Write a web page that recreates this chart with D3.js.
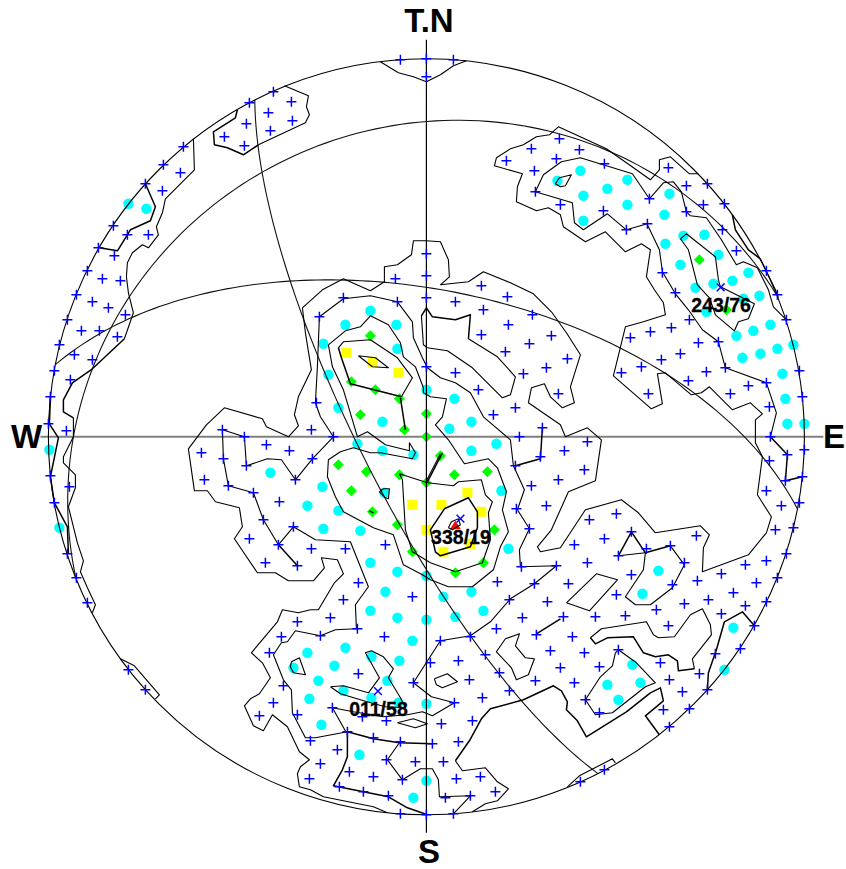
<!DOCTYPE html>
<html><head><meta charset="utf-8">
<script src="https://cdn.jsdelivr.net/npm/d3@7/dist/d3.min.js"></script>
<style>html,body{margin:0;padding:0;background:#fff}svg{display:block}text{font-family:"Liberation Sans",Arial,sans-serif;font-weight:bold;fill:#000}</style>
</head><body><div id="chart"></div>
<script>
// Net coordinates: [east, north], net radius = 378 units.
const NET_RADIUS = 378;
const planes = [
  {label:"338/19", dipDir:338, dip:19},
  {label:"243/76", dipDir:243, dip:76},
  {label:"011/58", dipDir:11, dip:58}
];
const compassLabels = ["T.N","S","W","E"];
const countCross = [[-26,377],[0,378],[27,377],[0,360],[-153,345],[-135,335],[-177,334],[-158,324],[-134,316],[-180,313],[-156,306],[-202,300],[-182,291],[-243,290],[-263,272],[-246,264],[-281,253],[-264,246],[-313,211],[-299,202],[-278,202],[-328,189],[-312,181],[-339,166],[-324,158],[-306,156],[-350,142],[-31,158],[-83,139],[0,183],[0,161],[0,139],[133,298],[105,288],[153,287],[80,276],[130,278],[178,273],[108,266],[242,269],[260,251],[281,253],[109,245],[134,232],[177,226],[223,238],[277,232],[298,233],[260,225],[221,213],[200,207],[296,207],[310,186],[236,164],[340,166],[249,144],[351,142],[55,151],[81,140],[29,135],[57,127],[106,122],[82,112],[55,102],[125,101],[103,93],[79,85],[141,78],[120,69],[0,70],[97,63],[29,64],[52,47],[132,43],[89,29],[67,22],[116,9],[93,0],[161,-5],[138,-14],[114,-20],[89,-29],[158,-33],[132,-43],[105,-49],[120,-69],[90,-72],[103,-92],[95,-130],[130,-129],[71,-145],[108,-147],[263,117],[360,117],[245,109],[224,105],[204,99],[292,95],[272,94],[254,83],[235,77],[215,70],[299,69],[280,65],[373,66],[195,64],[262,56],[340,54],[322,51],[304,43],[222,43],[376,40],[343,30],[344,0],[378,-13],[361,-18],[343,-24],[376,-40],[359,-44],[340,-54],[373,-66],[355,-69],[367,-91],[349,-93],[360,-117],[340,-124],[319,-128],[295,-137],[270,-99],[351,-141],[330,-146],[271,-144],[246,-148],[258,-126],[244,-109],[220,-112],[205,-95],[192,-119],[205,-138],[190,-77],[163,-83],[178,-102],[148,-108],[161,-126],[142,-147],
[-334,135],[-318,129],[-301,122],[-359,117],[-345,106],[-327,106],[-309,100],[-367,92],[-352,82],[-334,77],[-372,66],[-356,57],[-376,40],[-378,13],[-360,6],[-376,-39],[-357,-50],[-372,-66],[-359,-117],[-350,-141],[-29,135],[-107,120],[-110,34],[-115,7],[-93,0],[-204,7],[-182,0],[-160,-8],[-137,-14],[-225,-16],[-203,-22],[-114,-22],[-180,-29],[-131,-43],[-222,-43],[-198,-49],[-173,-56],[-147,-65],[-163,-83],[-133,-90],[-177,-102],[-148,-108],[-115,-112],[-81,-112],[-41,-108],[-161,-126],[-129,-129],[-68,-146],
[-339,-166],[-298,-233],[-281,-253],[-83,-163],[-96,-181],[-129,-185],[-145,-200],[-106,-199],[-69,-192],[-42,-200],[-14,-160],[-157,-216],[-68,-237],[-143,-249],[-13,-246],[-153,-266],[-167,-279],[-129,-278],[-94,-271],[-64,-280],[-40,-284],[-116,-304],[-79,-295],[-53,-301],[-26,-305],[-89,-313],[-40,-323],[-106,-327],[-11,-325],[-77,-335],[-53,-340],[-117,-342],[-24,-343],[-87,-350],[-63,-355],[-38,-359],[-26,-377],[0,-378],[27,-377],
[83,-163],[121,-165],[190,-158],[307,-156],[282,-163],[258,-167],[230,-173],[340,-165],[319,-169],[295,-177],[199,-179],[169,-180],[137,-180],[96,-181],[242,-189],[328,-189],[70,-192],[44,-200],[14,-204],[110,-198],[146,-200],[314,-212],[192,-213],[124,-214],[158,-216],[59,-218],[289,-217],[4,-226],[32,-224],[234,-226],[173,-230],[134,-231],[273,-237],[73,-236],[243,-243],[43,-243],[109,-244],[148,-246],[281,-253],[256,-255],[83,-254],[159,-263],[56,-261],[28,-266],[263,-272],[237,-273],[173,-276],[243,-290],[15,-287],[46,-284],[6,-307],[32,-305],[17,-325],[30,-342],[54,-340],[69,-355],[19,-361],[44,-359],[178,-333],[154,-345]];
const countCircle = [[-298,233],[-280,228],[154,266],[131,256],[201,257],[181,248],[157,241],[243,243],[201,232],[238,222],[157,216],[257,201],[278,202],[239,193],[292,182],[254,172],[322,164],[306,156],[287,153],[269,149],[333,141],[317,138],[280,125],[310,101],[327,106],[344,112],[367,92],[351,88],[334,83],[316,79],[356,63],[359,38],[361,13],[378,13],[0,47],[28,38],[45,15],[23,8],[45,-14],[70,-7],[75,-54],[82,-112],[0,-139],[45,-155],[232,-134],[216,-157],[17,-160],[57,-174],[29,-180],[0,-183],[307,-191],[206,-228],[298,-233],[214,-246],[181,-248],[192,-263],[0,-267],[0,-344],[-56,126],[-81,112],[-30,112],[-103,93],[-29,88],[-98,62],[-88,29],[-44,15],[-69,-7],[-44,-14],[-13,-18],[-377,-13],[-367,-91],[-156,-36],[-104,-50],[-42,-56],[-119,-69],[-88,-74],[-103,-92],[-66,-94],[-56,-126],[-29,-135],[-41,-155],[-56,-174],[-29,-181],[-14,-204],[-81,-211],[-119,-216],[-27,-224],[-55,-220],[-92,-229],[-133,-231],[-108,-244],[-39,-244],[-83,-254],[-117,-262],[-55,-261],[-28,-266],[-105,-288],[-67,-318],[-13,-361]];
const countDiamond = [[273,177],[300,127],[0,23],[0,0],[14,-19],[28,-38],[61,-35],[0,-46],[68,-93],[57,-126],[29,-136],[-56,101],[-75,55],[-51,47],[-27,38],[-66,22],[-22,7],[-88,-28],[-60,-35],[-27,-38],[-75,-54],[-54,-75],[-29,-88],[-14,-115]];
const countSquare = [[41,-56],[15,-68],[55,-75],[0,-93],[44,-107],[17,-115],[-80,84],[-54,75],[-28,64],[-14,-68]];
const countTriangle = [[29,-89]];
// open contour lines, thin
const contoursThin = [
 [[-46,375],[-28,364],[-13,360],[0,355],[14,362],[27,371],[40,376]],
 [[-142,351],[-118,341],[-120,330],[-117,322],[-121,314],[-168,292]],
 [[-233,298],[-232,267],[-261,238],[-264,224],[-270,210],[-268,202],[-278,189],[-284,192],[-294,184],[-299,174],[-300,160],[-298,144],[-293,124],[-302,98]],
 [[-353,19],[-353,0],[-363,-20],[-363,-26],[-351,-38],[-351,-51],[-358,-70],[-349,-106],[-343,-124],[-346,-135],[-339,-151],[-331,-168],[-334,-176]],
 [[-306,-222],[-292,-229],[-267,-258],[-271,-262]],
 [[272,263],[263,263],[244,280],[233,277],[233,267],[224,257],[200,274],[180,288],[132,310],[123,302],[110,300],[97,292],[84,288],[70,279],[68,271],[96,263],[91,250],[90,235],[110,226],[122,229],[134,222],[137,210],[159,195],[179,205],[199,185],[215,193],[224,187],[220,160],[228,147],[237,134],[239,122],[217,115],[199,110],[187,61],[225,28],[236,33],[231,63],[239,64],[265,42],[275,44],[283,50],[306,27],[324,34],[336,23],[329,17],[329,-6],[336,-20],[331,-58],[345,-80],[340,-96],[322,-118],[276,-135],[277,-111],[283,-98],[274,-89],[229,-96],[212,-76],[195,-63],[159,-73],[134,-111],[114,-115],[111,-110],[125,-93],[142,-55],[169,-44],[175,-3],[161,9],[139,0],[134,12],[102,34],[105,49],[118,53],[124,40],[136,29],[148,34],[144,50],[154,82],[140,104],[125,125],[107,143],[84,154],[57,165],[42,155],[14,152],[23,160],[22,177],[14,195],[0,196],[-13,196],[-15,182],[-29,172],[-42,170],[-42,155],[-56,146],[-83,158],[-104,147],[-124,129],[-121,104],[-115,67],[-128,40],[-132,22],[-128,11],[-138,0],[-160,10],[-164,18],[-202,29],[-220,12],[-238,-12],[-232,-54],[-219,-54],[-211,-65],[-187,-71],[-184,-90],[-192,-102],[-169,-136],[-151,-136],[-138,-144],[-113,-144],[-102,-131],[-105,-121],[-89,-123],[-83,-137],[-92,-146],[-108,-173],[-116,-173],[-128,-176],[-144,-173],[-149,-185],[-175,-216],[-164,-226],[-156,-241],[-167,-257],[-176,-262],[-182,-269],[-173,-289],[-163,-294],[-154,-278],[-139,-290],[-127,-315],[-117,-323],[-126,-330],[-129,-337],[-127,-350],[-116,-353],[-103,-360],[-53,-370],[-39,-376]],
 [[46,-375],[59,-367],[71,-364],[82,-352],[71,-345],[59,-331],[36,-334],[29,-324]],
 [[141,-350],[153,-339],[186,-322],[189,-326]],
 [[164,-201],[175,-192],[220,-185],[227,-198],[232,-201],[248,-200],[264,-178],[276,-172],[284,-188],[285,-198],[266,-222],[268,-232]],
 [[140,-166],[170,-137],[191,-143],[163,-174],[140,-166]],
 [[79,-202],[93,-197],[89,-209],[99,-221],[108,-222],[102,-238],[90,-243],[85,-231],[70,-215],[79,-202]],
 [[8,-242],[21,-237],[31,-245],[16,-251],[10,-248],[8,-242]],
 [[192,-213],[210,-226],[229,-246],[219,-250],[186,-276],[169,-278],[159,-263],[174,-240],[186,-229],[189,-216],[192,-213]],
 [[219,-116],[217,-133],[199,-160],[209,-168],[224,-168],[246,-151],[258,-128],[244,-109]],
 [[192,-119],[219,-116]],
 [[-29,-286],[-13,-282],[1,-287],[-11,-291],[-29,-286]],
 [[1,89],[21,86],[46,69],[76,39],[84,42],[89,60],[71,80],[42,98]],
 [[-5,121],[-3,92],[1,89]],
 [[-83,138],[-107,120],[-109,70],[-111,34],[-106,20],[-93,0],[-114,-22],[-131,-43],[-145,-23],[-159,-22],[-180,-29],[-182,0],[-204,7],[-203,-22],[-198,-49],[-173,-56],[-163,-83],[-148,-108]],
 [[-148,-108],[-133,-90],[-111,-103],[-76,-105],[-66,-130],[-58,-150],[-71,-168],[-70,-192],[-91,-193],[-106,-199],[-131,-194],[-139,-205],[-145,-206],[-153,-218],[-143,-243],[-135,-253],[-134,-276],[-121,-301],[-111,-301],[-79,-295]],
 [[-27,-306],[-39,-323],[-24,-343],[-6,-332],[6,-332],[12,-343],[13,-360],[44,-359],[27,-377]],
 [[-94,-271],[-80,-296]],
 [[-83,138],[-56,141],[-29,135],[-14,115],[-13,99],[-4,79],[1,69],[14,59],[29,54],[44,44],[57,20],[84,-3],[87,-29],[98,-53],[91,-73],[103,-92],[93,-113],[94,-130],[130,-129],[108,-147],[84,-162],[64,-185],[44,-199],[14,-204],[-13,-246],[5,-260],[28,-266],[6,-279],[-4,-275],[-19,-278],[-43,-280],[-73,-275],[-94,-271]],
 [[-98,92],[-94,70],[-83,47],[-74,17],[-69,0],[-59,5],[-41,-8],[-17,-14],[-17,-6],[-11,-16],[-14,-22],[-46,-16],[-56,-16],[-73,-11],[-86,-15],[-98,-23],[-99,-40],[-91,-60],[-83,-75],[-53,-91],[-33,-98],[-23,-128],[-4,-138],[4,-143],[22,-150],[46,-150],[67,-133],[74,-110],[82,-95],[76,-73],[80,-55],[71,-31],[62,-22],[38,-27],[22,-3],[9,12],[16,20],[20,38],[4,40],[-3,44],[-3,49],[-11,70],[-23,80],[-26,94],[-38,112],[-56,121],[-66,110],[-81,106],[-98,92]],
 [[-88,89],[-83,95],[-56,97],[-29,79],[-14,59],[-25,40]],
 [[-68,81],[-51,79],[-38,69],[-54,70],[-68,81]],
 [[-27,-37],[1,-46],[27,-49],[32,-45],[55,-43],[59,-58],[66,-65],[62,-76],[64,-103],[56,-126],[29,-135],[4,-126],[-14,-115],[-21,-93],[-24,-43],[-27,-37]],
 [[22,-91],[25,-85],[32,-82],[34,-88],[26,-93],[22,-91]],
 [[-47,-55],[-43,-52],[-37,-52],[-38,-62],[-41,-61],[-47,-55]],
 [[14,-17],[-1,-46]],
 [[-96,-250],[-83,-249],[-58,-256],[-47,-241],[-61,-216],[-55,-214],[-43,-220],[-33,-232],[-38,-241],[-26,-261],[-21,-271],[-41,-270],[-56,-266],[-86,-257],[-96,-250]],
 [[-127,-221],[-121,-238],[-133,-236],[-136,-230],[-135,-225],[-127,-221]],
 [[221,213],[200,207],[181,223],[157,207],[148,214],[146,234],[109,245],[117,262],[135,275],[154,279],[206,263],[223,238],[237,254],[247,255],[255,245],[260,225],[264,221],[280,219],[295,197],[310,172],[317,175],[331,169],[342,147],[347,130],[360,117]],
 [[221,212],[233,187],[236,165],[249,143],[262,127],[276,107],[292,95],[299,69],[340,54],[350,24],[344,0]],
 [[254,198],[260,203],[289,180],[292,157],[294,150],[328,133],[322,118],[312,115],[308,106],[289,122],[283,139],[271,152],[262,187],[254,198]],
 [[129,253],[133,259],[145,262],[139,251],[134,250],[129,253]],
 [[334,178],[349,147],[352,139]]
];
// open contour lines, heavy
const contoursThick = [
 [[-168,292],[-183,282],[-199,289],[-212,292],[-213,305],[-191,319],[-189,327]],
 [[-302,98],[-334,68],[-354,54],[-363,37],[-363,25],[-353,19]],
 [[-281,253],[-271,230],[-276,216],[-296,207],[-309,186],[-327,189]],
 [[-376,40],[-377,13],[-368,-1],[-376,-40],[-372,-66],[-359,-90],[-358,-117]],
 [[29,-324],[43,-304],[55,-282],[64,-272],[97,-263],[127,-249],[135,-254],[141,-265],[140,-273],[151,-284],[160,-300],[200,-275],[224,-256],[234,-251],[237,-264],[219,-279],[233,-298]],
 [[281,-253],[282,-236],[290,-213],[298,-185],[316,-175],[328,-189]],
 [[268,-232],[252,-234],[251,-224],[242,-218],[229,-220],[217,-216],[207,-200],[181,-201],[169,-207],[164,-201]],
 [[192,-119],[205,-95],[219,-116],[244,-109]],
 [[110,-197],[134,-182]],
 [[42,98],[44,122],[29,117],[6,120],[0,129],[-5,121]],
 [[-148,-108],[-129,-129]],
 [[-79,-295],[-53,-302],[-27,-306],[6,-307]],
 [[-79,-295],[-79,-320],[-84,-333],[-93,-349],[-63,-355],[-38,-360],[-19,-371],[1,-378]],
 [[-25,40],[-76,53],[-85,79],[-88,89]],
 [[-26,39],[-21,7]],
 [[18,-72],[42,-61],[51,-75],[51,-91],[44,-110],[14,-119],[9,-115],[4,-93],[18,-72]],
 [[-57,-74],[-53,-76]],
 [[16,-16],[1,-45]],
 [[344,0],[361,-18],[359,-44],[376,-40]],
 [[306,222],[309,207],[322,187],[334,178]],
 [[89,-29],[114,-22],[116,9]]
];

const width = 846, height = 869, cx = 426.4, cy = 436.8;
const x = d3.scaleLinear().domain([-NET_RADIUS, NET_RADIUS]).range([cx - NET_RADIUS, cx + NET_RADIUS]);
const y = d3.scaleLinear().domain([-NET_RADIUS, NET_RADIUS]).range([cy + NET_RADIUS, cy - NET_RADIUS]);
const rad = d => d * Math.PI / 180;

// Equal-area (Schmidt) lower-hemisphere projection of a unit vector [e, n, down]
function project([e, n, z]) {
  const r = NET_RADIUS * Math.SQRT2 * Math.sin((Math.PI / 2 - Math.asin(Math.min(1, z))) / 2);
  const h = Math.hypot(e, n) || 1;
  return [r * e / h, r * n / h];
}
function greatCircle(p) {
  const dd = rad(p.dipDir), d = rad(p.dip), s = dd - Math.PI / 2;
  const S = [Math.sin(s), Math.cos(s), 0];
  const D = [Math.cos(d) * Math.sin(dd), Math.cos(d) * Math.cos(dd), Math.sin(d)];
  return d3.range(0, 181, 1.5).map(a => {
    const c = Math.cos(rad(a)), k = Math.sin(rad(a));
    return project([c * S[0] + k * D[0], c * S[1] + k * D[1], Math.max(0, c * S[2] + k * D[2])]);
  });
}
function poleOf(p) {
  const t = rad(p.dipDir + 180), pl = rad(90 - p.dip);
  return project([Math.cos(pl) * Math.sin(t), Math.cos(pl) * Math.cos(t), Math.sin(pl)]);
}

const svg = d3.select("#chart").append("svg").attr("width", width).attr("height", height);
const line = d3.line().x(d => x(d[0])).y(d => y(d[1]));
const [x0, x1] = x.domain();

// east-west axis lies under the count symbols
svg.append("line").attr("x1", x(x0) - 8).attr("x2", x(x1) + 19).attr("y1", y(0)).attr("y2", y(0))
  .attr("stroke", "#808080").attr("stroke-width", 2);

// filled count symbols below the contours
svg.append("g").selectAll("circle").data(countCircle).join("circle")
  .attr("cx", d => x(d[0])).attr("cy", d => y(d[1])).attr("r", 5.2).attr("fill", "#00ffff");
svg.append("g").selectAll("path").data(countDiamond).join("path")
  .attr("d", "M0,-5.5L5.5,0L0,5.5L-5.5,0Z").attr("transform", d => `translate(${x(d[0])},${y(d[1])})`)
  .attr("fill", "#00ff00");
svg.append("g").selectAll("rect").data(countSquare).join("rect")
  .attr("x", d => x(d[0]) - 5).attr("y", d => y(d[1]) - 5).attr("width", 10).attr("height", 10).attr("fill", "#ffff00");
svg.append("g").selectAll("path").data(countTriangle).join("path")
  .attr("d", "M0,-5L5.5,3.5L-5.5,3.5Z").attr("transform", d => `translate(${x(d[0])},${y(d[1])})`).attr("fill", "#ff0000");

// net frame
svg.append("circle").attr("cx", x(0)).attr("cy", y(0)).attr("r", x(NET_RADIUS) - x(0))
  .attr("fill", "none").attr("stroke", "#000").attr("stroke-width", 1.1);
svg.append("line").attr("x1", x(0)).attr("x2", x(0)).attr("y1", y(x1) - 19).attr("y2", y(x0) + 18)
  .attr("stroke", "#000").attr("stroke-width", 1.2);

// great circles
svg.append("g").selectAll("path").data(planes).join("path")
  .attr("d", p => line(greatCircle(p))).attr("fill", "none").attr("stroke", "#111").attr("stroke-width", 1.1);

// contours
const lines = svg.append("g").attr("fill", "none").attr("stroke", "#000").attr("stroke-linejoin", "round");
lines.selectAll("path.thin").data(contoursThin).join("path").attr("class", "thin").attr("d", line).attr("stroke-width", 1.1);
lines.selectAll("path.thick").data(contoursThick).join("path").attr("class", "thick").attr("d", line).attr("stroke-width", 1.5);

// crosses
const crossMark = "M-5,0H5M0,-5V5";
svg.append("g").attr("stroke", "#0000ff").attr("stroke-width", 1.5).attr("fill", "none")
  .selectAll("path").data(countCross).join("path")
  .attr("d", crossMark).attr("transform", d => `translate(${x(d[0])},${y(d[1])})`);

// plane poles and labels
const poles = planes.map(p => ({label: p.label, at: poleOf(p)}));
svg.append("g").attr("stroke", "#0000ff").attr("stroke-width", 1.5).attr("fill", "none")
  .selectAll("path").data(poles).join("path")
  .attr("d", "M-5.5,0H5.5M0,-5.5V5.5").attr("transform", d => `translate(${x(d.at[0]) + 1},${y(d.at[1])}) rotate(45)`);
svg.append("g").selectAll("text").data(poles).join("text")
  .attr("x", d => x(d.at[0]) + 1.5).attr("y", d => y(d.at[1]) + 25)
  .attr("text-anchor", "middle").attr("font-size", 19.5).attr("stroke", "#000").attr("stroke-width", 0.3).text(d => d.label);

// compass letters
const compassAt = [[x(0) + 2.5, 32, "middle"], [x(0) + 2.5, 863, "middle"], [11, 448, "start"], [823, 448, "start"]];
svg.append("g").selectAll("text").data(compassLabels).join("text")
  .attr("x", (d, i) => compassAt[i][0]).attr("y", (d, i) => compassAt[i][1])
  .attr("text-anchor", (d, i) => compassAt[i][2]).attr("font-size", 33).text(d => d);
</script></body></html>
